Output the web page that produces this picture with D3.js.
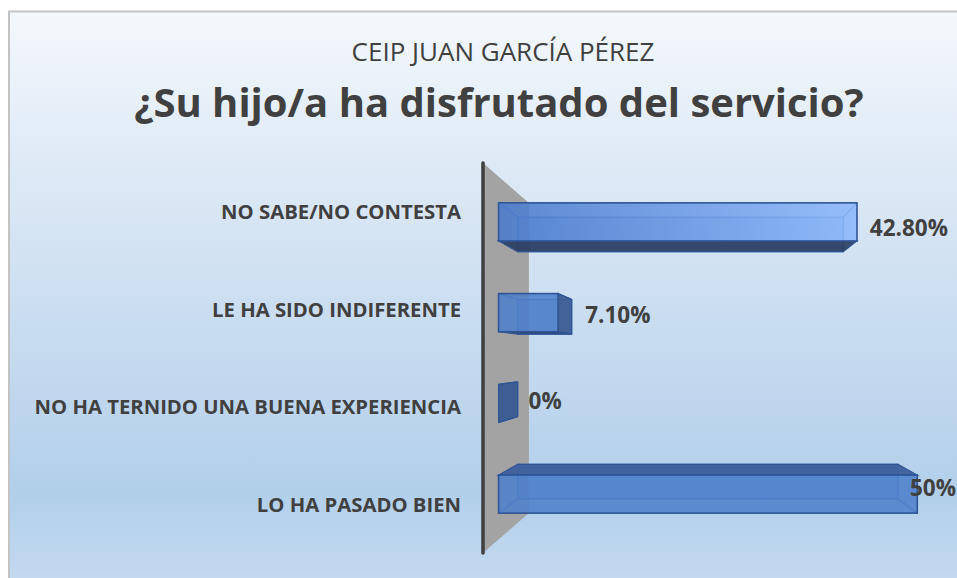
<!DOCTYPE html>
<html>
<head>
<meta charset="utf-8">
<script src="https://cdn.jsdelivr.net/npm/d3@7"></script>
<style>
  body { margin: 0; background: #ffffff; }
  svg { display: block; }
</style>
</head>
<body>
<div id="chart"></div>
<script>
const subtitle = "CEIP JUAN GARCÍA PÉREZ";
const title = "¿Su hijo/a ha disfrutado del servicio?";
const categories = [
    "NO SABE/NO CONTESTA",
    "LE HA SIDO INDIFERENTE",
    "NO HA TERNIDO UNA BUENA EXPERIENCIA",
    "LO HA PASADO BIEN"
];
const values = [42.8, 7.1, 0, 50];
const valueLabels = ["42.80%", "7.10%", "0%", "50%"];

const W = 957, H = 578;

// simple perspective: vanishing point in the middle of the plot
const VP = { x: 707, y: 358 };
const DEPTH = 3.88;
function proj(x, y, z) {
    const s = DEPTH / (DEPTH + z);
    return [VP.x + (x - VP.x) * s, VP.y + (y - VP.y) * s];
}
const Z0 = 0.29, Z1 = 0.71;

function buildChart() {
    const svg = d3.select("#chart").append("svg")
        .attr("width", W)
        .attr("height", H);

    const defs = svg.append("defs");
    const bg = defs.append("linearGradient").attr("id", "bg")
        .attr("x1", 0).attr("y1", 0).attr("x2", 0).attr("y2", 1);
    bg.append("stop").attr("offset", 0).attr("stop-color", "#f4f8fc");
    bg.append("stop").attr("offset", 0.25).attr("stop-color", "#dfeaf6");
    bg.append("stop").attr("offset", 0.82).attr("stop-color", "#b2cfea");
    bg.append("stop").attr("offset", 1).attr("stop-color", "#c6dcf1");

    const hl = defs.append("linearGradient").attr("id", "barHL")
        .attr("x1", 0).attr("y1", 0).attr("x2", 1).attr("y2", 0);
    hl.append("stop").attr("offset", 0).attr("stop-color", "#4a7bcc");
    hl.append("stop").attr("offset", 1).attr("stop-color", "#8cb8fb");

    // chart area
    svg.append("rect")
        .attr("x", 9).attr("y", 11.5)
        .attr("width", W + 10).attr("height", H + 10)
        .attr("fill", "url(#bg)")
        .attr("stroke", "#c3c3c3")
        .attr("stroke-width", 2);

    // titles
    svg.append("text")
        .attr("x", 503).attr("y", 61)
        .attr("text-anchor", "middle")
        .attr("font-family", "'Open Sans', sans-serif")
        .attr("font-size", 26)
        .attr("fill", "#404040")
        .text(subtitle);
    svg.append("text")
        .attr("x", 499).attr("y", 117)
        .attr("text-anchor", "middle")
        .attr("font-family", "'Open Sans', sans-serif")
        .attr("font-weight", "bold")
        .attr("font-size", 40)
        .attr("fill", "#404040")
        .text(title);

    const x = d3.scaleLinear().domain([0, 50]).range([483, 933]);
    const y = d3.scaleBand().domain(categories).range([163, 553])
        .paddingInner(0.58).paddingOuter(0.29);

    const y0 = y.range()[0], y1 = y.range()[1], xa = x(0);

    // side wall (the value axis plane)
    const wall = [proj(xa, y0, 0), proj(xa, y0, 1), proj(xa, y1, 1), proj(xa, y1, 0)];
    svg.append("polygon")
        .attr("points", wall.map(p => p.join(",")).join(" "))
        .attr("fill", "#a3a3a3");
    svg.append("line")
        .attr("x1", xa).attr("x2", xa)
        .attr("y1", y0).attr("y2", y1)
        .attr("stroke", "#3f3f3f")
        .attr("stroke-width", 3.5)
        .attr("stroke-linecap", "round");

    const poly = (g, pts) => g.append("polygon").attr("points", pts.map(p => p.join(",")).join(" "));

    categories.forEach((c, i) => {
        const g = svg.append("g");
        const xl = xa, xr = x(values[i]);
        const yt = y(c), yb = y(c) + y.bandwidth();

        // back face outline, seen through the front
        poly(g, [proj(xl, yt, Z1), proj(xr, yt, Z1), proj(xr, yb, Z1), proj(xl, yb, Z1)])
            .attr("fill", "#4a78c4").attr("fill-opacity", 0.35)
            .attr("stroke", "#3563b0").attr("stroke-width", 1.2);

        // top or bottom face
        if (yb < VP.y) {
            poly(g, [proj(xl, yb, Z0), proj(xr, yb, Z0), proj(xr, yb, Z1), proj(xl, yb, Z1)])
                .attr("fill", "#2b3d60").attr("fill-opacity", 0.92)
                .attr("stroke", "#2f5597").attr("stroke-width", 1.2);
        } else if (yt > VP.y) {
            poly(g, [proj(xl, yt, Z0), proj(xr, yt, Z0), proj(xr, yt, Z1), proj(xl, yt, Z1)])
                .attr("fill", "#3c5f9c").attr("fill-opacity", 0.95)
                .attr("stroke", "#2f5597").attr("stroke-width", 1.2);
        }
        // hidden top/bottom edges
        const hy = yb < VP.y ? yt : yb;
        [xl, xr].forEach(xx => {
            const a = proj(xx, hy, Z0), b = proj(xx, hy, Z1);
            g.append("line").attr("x1", a[0]).attr("y1", a[1]).attr("x2", b[0]).attr("y2", b[1])
                .attr("stroke", "#3563b0").attr("stroke-width", 1.2);
        });

        // end cap
        if (xr < VP.x) {
            poly(g, [proj(xr, yt, Z0), proj(xr, yt, Z1), proj(xr, yb, Z1), proj(xr, yb, Z0)])
                .attr("fill", i === 2 ? "#385a92" : "#3e5d94").attr("fill-opacity", 0.95)
                .attr("stroke", "#2f5597").attr("stroke-width", 1.2);
        }

        // front face
        const f0 = proj(xl, yt, Z0), f1 = proj(xr, yb, Z0);
        if (f1[0] - f0[0] > 1) {
            g.append("rect")
                .attr("x", f0[0]).attr("y", f0[1])
                .attr("width", f1[0] - f0[0]).attr("height", f1[1] - f0[1])
                .attr("fill", i === 0 ? "url(#barHL)" : "#4f7fcb")
                .attr("fill-opacity", 0.88)
                .attr("stroke", "#2f5597").attr("stroke-width", 1.6);
        }

        // value label
        const lp = proj(xr, (yt + yb) / 2, 0.5);
        const lab = svg.append("text")
            .attr("y", lp[1] + 8)
            .attr("font-family", "'Open Sans', sans-serif")
            .attr("font-weight", "bold")
            .attr("font-size", 22.5)
            .attr("fill", "#404040")
            .text(valueLabels[i]);
        const w = lab.node().getComputedTextLength();
        lab.attr("x", Math.min(lp[0] + 20, W - w - 1));
    });

    // category labels
    categories.forEach(c => {
        svg.append("text")
            .attr("x", 461)
            .attr("y", y(c) + y.bandwidth() / 2 + 7.5)
            .attr("text-anchor", "end")
            .attr("font-family", "'Open Sans', sans-serif")
            .attr("font-weight", "bold")
            .attr("font-size", 20.3)
            .attr("fill", "#404040")
            .text(c);
    });
}

window.addEventListener("load", buildChart);
</script>
</body>
</html>
